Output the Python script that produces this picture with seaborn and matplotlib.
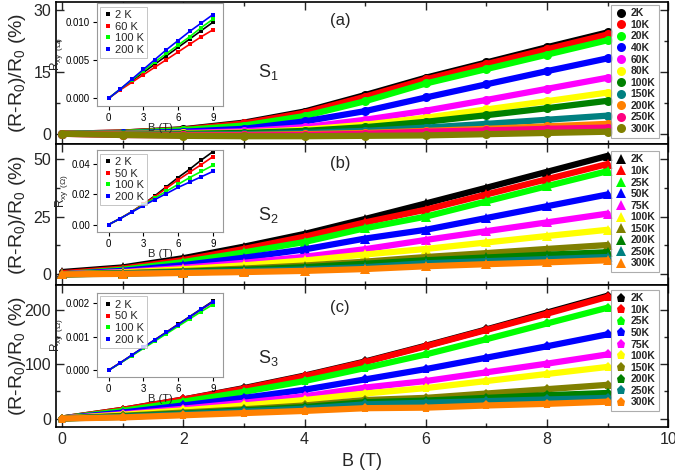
import pandas as pd
import seaborn as sns
import matplotlib.pyplot as plt
from matplotlib.lines import Line2D

# field values (T) at which the curves were read
B = [0, 1, 2, 3, 4, 5, 6, 7, 8, 9]

# panel (a) S1 magnetoresistance (%)
temps_a = ['2K', '10K', '20K', '40K', '60K', '80K', '100K', '150K', '200K', '250K', '300K']
colors_a = ['#000000', '#ff0000', '#00ff00', '#0000ff', '#ff00ff', '#ffff00',
            '#008000', '#008080', '#ff8000', '#ff0080', '#808000']
mr_a = [
    [0, 0.3, 1.1, 2.7, 5.4, 9.4, 13.6, 17.3, 21.0, 24.6],
    [0, 0.3, 1.0, 2.5, 5.1, 9.0, 13.2, 16.9, 20.5, 24.1],
    [0, 0.2, 0.9, 2.0, 4.3, 7.9, 12.2, 15.7, 19.2, 22.7],
    [0, 0.1, 0.5, 1.2, 3.0, 5.5, 8.8, 12.0, 15.2, 18.3],
    [0, 0.0, 0.2, 0.6, 1.6, 3.4, 5.6, 8.2, 10.9, 13.6],
    [0, 0.0, 0.1, 0.3, 1.0, 2.2, 3.9, 5.9, 7.9, 10.0],
    [0, 0.0, 0.0, 0.2, 0.7, 1.6, 2.9, 4.5, 6.2, 8.0],
    [0, -0.1, -0.2, -0.1, 0.2, 0.7, 1.5, 2.4, 3.4, 4.4],
    [0, -0.2, -0.3, -0.3, -0.1, 0.2, 0.7, 1.2, 1.8, 2.4],
    [0, -0.3, -0.4, -0.4, -0.3, 0.0, 0.5, 0.8, 1.2, 1.5],
    [0, -0.3, -0.5, -0.6, -0.6, -0.5, -0.4, -0.1, 0.2, 0.5],
]

# panel (b) S2
temps_b = ['2K', '10K', '25K', '50K', '75K', '100K', '150K', '200K', '250K', '300K']
colors_b = ['#000000', '#ff0000', '#00ff00', '#0000ff', '#ff00ff', '#ffff00',
            '#808000', '#008000', '#008080', '#ff8000']
mr_b = [
    [1.0, 3.0, 7.0, 12.0, 17.5, 24.0, 30.7, 37.5, 44.4, 51.3],
    [0.5, 2.5, 6.2, 11.0, 16.3, 22.5, 28.0, 34.6, 41.2, 47.8],
    [0, 2.0, 5.3, 9.5, 14.0, 20.0, 25.0, 31.6, 38.2, 44.7],
    [0, 1.5, 4.0, 7.2, 10.8, 15.5, 19.3, 24.4, 29.5, 34.6],
    [0, 1.0, 2.8, 5.0, 7.6, 10.9, 14.9, 18.7, 22.5, 26.3],
    [0, 0.8, 2.2, 3.9, 6.0, 8.6, 11.0, 13.8, 16.6, 19.3],
    [0, 0.5, 1.4, 2.5, 3.8, 5.5, 7.5, 9.2, 11.0, 12.7],
    [0, 0.4, 1.1, 2.0, 3.1, 4.6, 6.1, 7.3, 8.5, 9.6],
    [0, 0.3, 0.8, 1.4, 2.1, 3.1, 4.8, 5.7, 6.6, 7.5],
    [0, 0.2, 0.6, 1.0, 1.5, 2.3, 3.5, 4.4, 5.2, 6.1],
]

# panel (c) S3
temps_c = ['2K', '10K', '25K', '50K', '75K', '100K', '150K', '200K', '250K', '300K']
colors_c = colors_b
mr_c = [
    [0, 16, 35, 56, 79, 105, 134, 164, 195, 226],
    [0, 16, 35, 55, 78, 104, 133, 163, 193, 224],
    [0, 14, 31, 49, 69, 93, 118, 146, 175, 204],
    [0, 11, 24, 38, 53, 72, 91, 112, 133, 155],
    [0, 8, 18, 29, 41, 57, 69, 85, 101, 118],
    [0, 7, 15, 24, 34, 46, 56, 69, 82, 95],
    [0, 5, 11, 17, 24, 34, 38, 46, 54, 62],
    [0, 4, 9, 15, 21, 30, 33, 38, 43, 47],
    [0, 3, 8, 13, 18, 26, 29, 32, 35, 38],
    [0, 2, 6, 10, 14, 19, 20, 24, 27, 31],
]

# insets: Hall resistance R_xy (Ohm)
inset_temps_a = ['2 K', '60 K', '100 K', '200 K']
inset_temps_bc = ['2 K', '50 K', '100 K', '200 K']
inset_colors = ['#000000', '#ff0000', '#00ff00', '#0000ff']
rxy_a = [
    [0, 0.0012, 0.0023, 0.0034, 0.0045, 0.0056, 0.0067, 0.0078, 0.0089, 0.0100],
    [0, 0.0011, 0.0021, 0.0031, 0.0041, 0.0051, 0.0061, 0.0071, 0.0081, 0.0090],
    [0, 0.0012, 0.0024, 0.0036, 0.0048, 0.0059, 0.0070, 0.0081, 0.0093, 0.0104],
    [0, 0.0012, 0.0025, 0.0038, 0.0051, 0.0064, 0.0076, 0.0088, 0.0099, 0.0110],
]
rxy_b = [
    [0, 0.0040, 0.0085, 0.0135, 0.0190, 0.0250, 0.0310, 0.0365, 0.0425, 0.0480],
    [0, 0.0040, 0.0085, 0.0135, 0.0185, 0.0240, 0.0295, 0.0345, 0.0395, 0.0447],
    [0, 0.0040, 0.0083, 0.0130, 0.0175, 0.0220, 0.0265, 0.0310, 0.0350, 0.0390],
    [0, 0.0040, 0.0082, 0.0125, 0.0165, 0.0205, 0.0245, 0.0280, 0.0315, 0.0350],
]
rxy_c = [
    [0, 0.00022, 0.00045, 0.00068, 0.00091, 0.00114, 0.00137, 0.00160, 0.00183, 0.00206],
    [0, 0.00022, 0.00044, 0.00067, 0.00090, 0.00113, 0.00136, 0.00158, 0.00181, 0.00203],
    [0, 0.00021, 0.00043, 0.00065, 0.00087, 0.00109, 0.00131, 0.00153, 0.00175, 0.00196],
    [0, 0.00022, 0.00045, 0.00068, 0.00091, 0.00113, 0.00136, 0.00159, 0.00182, 0.00204],
]

sns.set_theme(style='ticks')
plt.rcParams['font.family'] = ['Liberation Sans', 'DejaVu Sans']
plt.rcParams['mathtext.default'] = 'regular'
plt.rcParams['xtick.direction'] = 'in'
plt.rcParams['ytick.direction'] = 'in'


def long_df(temps, rows):
    recs = [(b, t, v) for t, r in zip(temps, rows) for b, v in zip(B, r)]
    return pd.DataFrame(recs, columns=['B', 'T', 'val'])


def draw_panel(ax, temps, rows, colors, marker, ylim, yticks, tag, sample, tag_y, s_y, leg_top):
    df = long_df(temps, rows)
    sns.lineplot(data=df, x='B', y='val', hue='T', hue_order=temps, palette=colors,
                 marker=marker, markersize=6.5, markeredgewidth=0, linewidth=4.5,
                 solid_capstyle='round', legend=False, ax=ax)
    ax.set_xlim(-0.1, 10)
    ax.set_ylim(*ylim)
    ax.set_yticks(yticks)
    ax.set_yticks([(yticks[i] + yticks[i + 1]) / 2 for i in range(len(yticks) - 1)], minor=True)
    ax.set_xticks([0, 2, 4, 6, 8, 10])
    ax.set_xticks([1, 3, 5, 7, 9], minor=True)
    ax.tick_params(which='both', top=True, right=True, labelsize=11.5, width=1)
    ax.tick_params(which='major', length=6)
    ax.tick_params(which='minor', length=3)
    for s in ax.spines.values():
        s.set_linewidth(1.2)
        s.set_color('black')
    ax.set_ylabel('(R-R$_0$)/R$_0$ (%)', fontsize=14)
    ax.yaxis.set_label_coords(-0.046, 0.5)
    ax.set_xlabel('')
    ax.text(0.464, tag_y, tag, transform=ax.transAxes, fontsize=12, ha='center', va='center')
    ax.text(0.346, s_y, sample, transform=ax.transAxes, fontsize=13, ha='center', va='center')
    handles = [Line2D([], [], ls='none', marker=marker, color=c, markersize=6.5, markeredgewidth=0)
               for c in colors]
    leg = ax.legend(handles, temps, loc='upper right', bbox_to_anchor=(0.985, leg_top),
                    borderaxespad=0, prop={'weight': 'bold', 'size': 7.5},
                    frameon=True, fancybox=False, edgecolor='#999999',
                    labelspacing=0.15, handletextpad=0.3, borderpad=0.35, handlelength=1.2)
    leg.get_frame().set_linewidth(0.8)


def draw_inset(rect, temps, rows, ylim, yticks, fmt):
    iax = fig.add_axes(rect)
    df = long_df(temps, rows)
    sns.lineplot(data=df, x='B', y='val', hue='T', hue_order=temps, palette=inset_colors,
                 marker='s', markersize=2.2, markeredgewidth=0, linewidth=1.2,
                 legend=False, ax=iax)
    iax.set_xlim(-1, 9.9)
    iax.set_ylim(*ylim)
    iax.set_xticks([0, 3, 6, 9])
    iax.set_yticks(yticks)
    iax.set_yticklabels([fmt.format(v) for v in yticks])
    iax.tick_params(direction='out', length=3, width=0.8, labelsize=7, pad=2, colors='black')
    for s in iax.spines.values():
        s.set_color('#999999')
        s.set_linewidth(0.8)
    iax.set_xlabel('B (T)', fontsize=8, labelpad=0)
    iax.set_ylabel('R$_{xy}$ $_{(\\Omega)}$', fontsize=8.5, labelpad=1)
    handles = [Line2D([], [], ls='none', marker='s', color=c, markersize=2.2, markeredgewidth=0)
               for c in inset_colors]
    leg = iax.legend(handles, temps, loc='upper left', fontsize=8, frameon=True, fancybox=False,
                     edgecolor='#aaaaaa', labelspacing=0.15, handletextpad=0.2,
                     borderpad=0.3, handlelength=0.8, borderaxespad=0.3)
    leg.get_frame().set_linewidth(0.6)


fig, axes = plt.subplots(3, 1, figsize=(6.75, 4.71), dpi=100, sharex=True)
fig.subplots_adjust(left=0.083, right=0.99, bottom=0.093, top=0.996, hspace=0)

draw_panel(axes[0], temps_a, mr_a, colors_a, 'o', (-2.4, 32), [0, 15, 30], '(a)', 'S$_1$',
           0.872, 0.504, 0.98)
draw_panel(axes[1], temps_b, mr_b, colors_b, '^', (-4.8, 56.6), [0, 25, 50], '(b)', 'S$_2$',
           0.857, 0.5, 0.95)
draw_panel(axes[2], temps_c, mr_c, colors_c, 'p', (-16, 245), [0, 100, 200], '(c)', 'S$_3$',
           0.847, 0.486, 0.97)
axes[2].set_xlabel('B (T)', fontsize=13)

draw_inset([0.1437, 0.775, 0.187, 0.218], inset_temps_a, rxy_a, (-0.001, 0.0125),
           [0, 0.005, 0.010], '{:.3f}')
draw_inset([0.1437, 0.507, 0.187, 0.174], inset_temps_bc, rxy_b, (-0.005, 0.049),
           [0, 0.02, 0.04], '{:.2f}')
draw_inset([0.1437, 0.1996, 0.187, 0.178], inset_temps_bc, rxy_c, (-0.0002, 0.0023),
           [0, 0.001, 0.002], '{:.3f}')

fig.savefig('out.png', dpi=100)
